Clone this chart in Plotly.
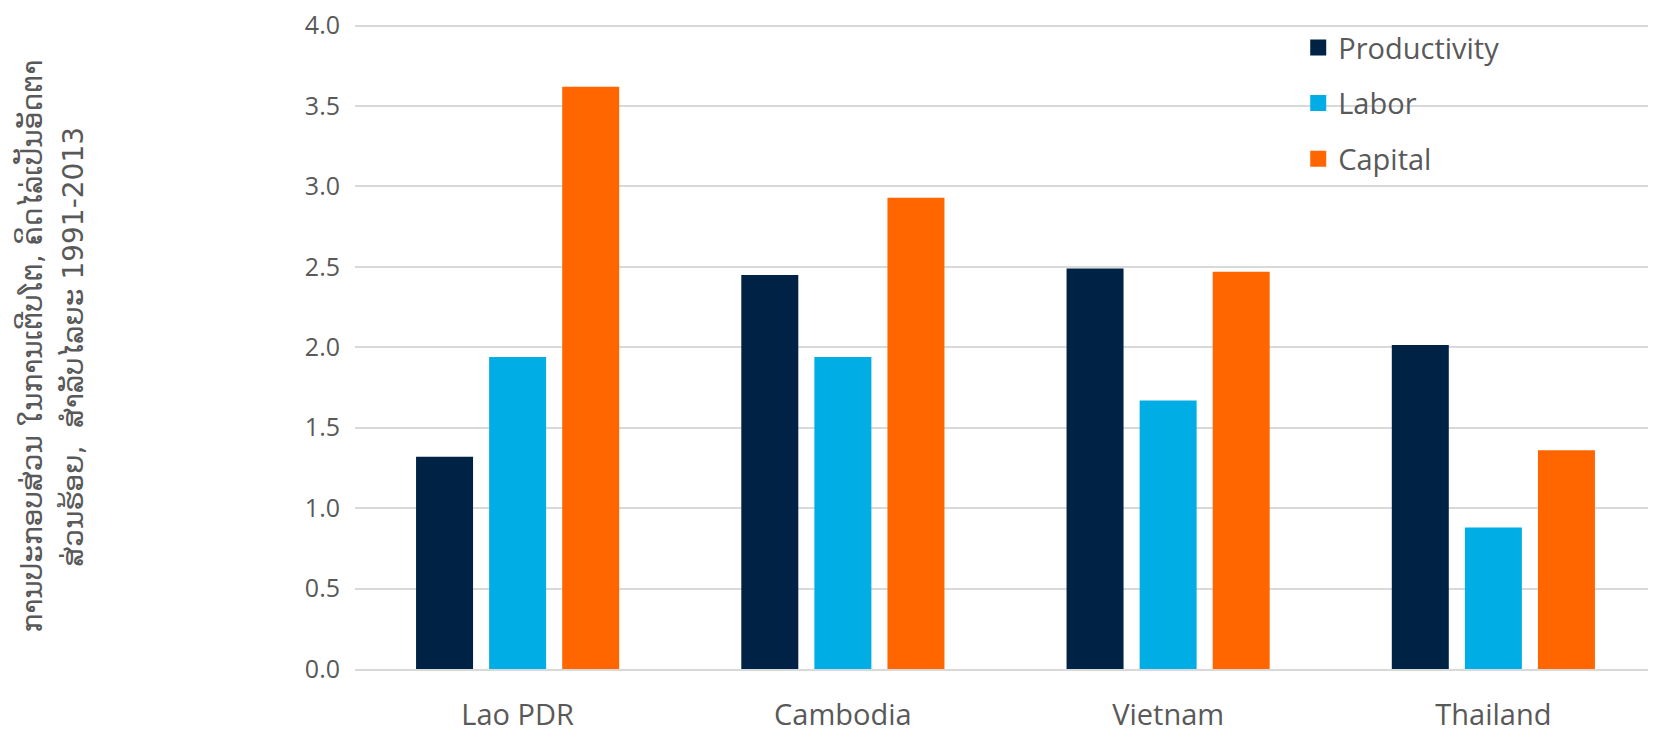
import plotly.graph_objects as go

countries = ["Lao PDR", "Cambodia", "Vietnam", "Thailand"]
productivity = [1.32, 2.45, 2.49, 2.015]
labor = [1.94, 1.94, 1.67, 0.88]
capital = [3.62, 2.93, 2.47, 1.36]
series_names = ["Productivity", "Labor", "Capital"]
colors = ["#002244", "#00AEE5", "#FF6600"]
y_title_lines = ["ການປະກອບສ່ວນ ໃນການເຕີບໂຕ, ຄິດໄລ່ເປັນອັດຕາ", "ສ່ວນຮ້ອຍ,  ສໍາລັບໄລຍະ 1991-2013"]
y_ticks = [0, 0.5, 1.0, 1.5, 2.0, 2.5, 3.0, 3.5, 4.0]

fig = go.Figure()
for i, (name, vals, col) in enumerate(zip(series_names, [productivity, labor, capital], colors)):
    fig.add_trace(go.Bar(x=countries, y=vals, name=name, marker_color=col,
                         marker_line_width=0, showlegend=False))
# legend entries with larger square swatches
for i, (name, col) in enumerate(zip(series_names, colors)):
    fig.add_trace(go.Scatter(x=[None], y=[None], mode="markers", name=name,
                             marker=dict(symbol="square", size=16, color=col),
                             legendgroup=f"g{i}", hoverinfo="skip"))

txt = "#595959"
L = 347
PW = 1301
fig.update_layout(
    width=1648, height=725,
    margin=dict(l=L, r=0, t=16, b=64),
    paper_bgcolor="white", plot_bgcolor="white",
    barmode="group", bargap=0.326, bargroupgap=0.22,
    font=dict(family="Open Sans, DejaVu Sans", color=txt),
    legend=dict(x=0.725, y=1.003, xanchor="left", yanchor="top",
                font=dict(size=29, color=txt), tracegroupgap=15,
                traceorder="grouped", bgcolor="rgba(0,0,0,0)"),
    showlegend=True,
)
fig.update_yaxes(range=[0, 4.01], tickvals=y_ticks, tickformat=".1f",
                 showgrid=True, gridcolor="#D9D9D9", gridwidth=2,
                 zeroline=False, showline=False, automargin=False,
                 ticklabeloverflow="allow",
                 ticks="outside", ticklen=9, tickcolor="rgba(0,0,0,0)",
                 tickfont=dict(size=25, color=txt))
fig.update_xaxes(showline=True, linecolor="#D9D9D9", linewidth=2, automargin=False,
                 ticklabeloverflow="allow",
                 ticks="outside", ticklen=19, tickcolor="rgba(0,0,0,0)",
                 tickfont=dict(size=29, color=txt))
for line, xpx in zip(y_title_lines, [22, 65]):
    fig.add_annotation(text=line, xref="paper", yref="paper",
                       x=-(L - xpx) / PW, y=0.5, xanchor="center", yanchor="middle",
                       textangle=-90, showarrow=False,
                       font=dict(family="DejaVu Sans", size=28, color=txt))
fig.write_html("out.html")
